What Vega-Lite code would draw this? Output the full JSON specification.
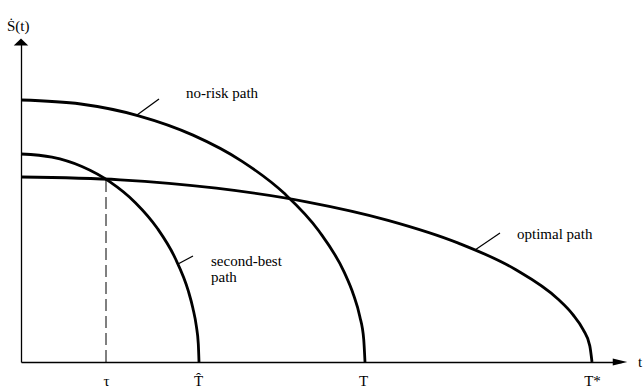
{
  "$schema": "https://vega.github.io/schema/vega-lite/v6.json",
  "width": 600,
  "height": 322,
  "autosize": {"type": "none"},
  "padding": {"left": 21, "top": 40, "right": 22, "bottom": 28},
  "background": "white",
  "config": {"view": {"stroke": null}},
  "datasets": {
    "curves": [
      {"path": "no-risk", "i": 0, "u": 0, "v": 262},
      {"path": "no-risk", "i": 1, "u": 59.7, "v": 258.0},
      {"path": "no-risk", "i": 2, "u": 117.6, "v": 246.2},
      {"path": "no-risk", "i": 3, "u": 172, "v": 226.9},
      {"path": "no-risk", "i": 4, "u": 221.1, "v": 200.7},
      {"path": "no-risk", "i": 5, "u": 263.5, "v": 168.4},
      {"path": "no-risk", "i": 6, "u": 297.9, "v": 131},
      {"path": "no-risk", "i": 7, "u": 323.3, "v": 89.6},
      {"path": "no-risk", "i": 8, "u": 332.3, "v": 67.8},
      {"path": "no-risk", "i": 9, "u": 338.8, "v": 45.5},
      {"path": "no-risk", "i": 10, "u": 342.7, "v": 22.8},
      {"path": "no-risk", "i": 11, "u": 344, "v": 0},
      {"path": "second-best", "i": 0, "u": 0, "v": 208},
      {"path": "second-best", "i": 1, "u": 30.9, "v": 204.8},
      {"path": "second-best", "i": 2, "u": 60.9, "v": 195.5},
      {"path": "second-best", "i": 3, "u": 89, "v": 180.1},
      {"path": "second-best", "i": 4, "u": 114.4, "v": 159.3},
      {"path": "second-best", "i": 5, "u": 136.3, "v": 133.7},
      {"path": "second-best", "i": 6, "u": 154.1, "v": 104},
      {"path": "second-best", "i": 7, "u": 167.3, "v": 71.1},
      {"path": "second-best", "i": 8, "u": 171.9, "v": 53.8},
      {"path": "second-best", "i": 9, "u": 175.3, "v": 36.1},
      {"path": "second-best", "i": 10, "u": 177.3, "v": 18.1},
      {"path": "second-best", "i": 11, "u": 178, "v": 0},
      {"path": "optimal", "i": 0, "u": 0, "v": 185},
      {"path": "optimal", "i": 1, "u": 99.1, "v": 182.2},
      {"path": "optimal", "i": 2, "u": 195.3, "v": 173.8},
      {"path": "optimal", "i": 3, "u": 285.5, "v": 160.2},
      {"path": "optimal", "i": 4, "u": 367.0, "v": 141.7},
      {"path": "optimal", "i": 5, "u": 437.4, "v": 118.9},
      {"path": "optimal", "i": 6, "u": 494.5, "v": 92.5},
      {"path": "optimal", "i": 7, "u": 536.6, "v": 63.3},
      {"path": "optimal", "i": 8, "u": 551.5, "v": 47.9},
      {"path": "optimal", "i": 9, "u": 562.3, "v": 32.1},
      {"path": "optimal", "i": 10, "u": 568.8, "v": 16.1},
      {"path": "optimal", "i": 11, "u": 571, "v": 0}
    ],
    "leaders": [
      {"u": 116, "v": 247, "u2": 138, "v2": 263},
      {"u": 157, "v": 98, "u2": 172, "v2": 106},
      {"u": 454, "v": 112, "u2": 479, "v2": 129}
    ],
    "tau": [
      {"u": 85, "v": 0, "u2": 85, "v2": 183}
    ],
    "arrows": [
      {"u": 0, "v": 320, "dir": "up"},
      {"u": 599, "v": 0, "dir": "right"}
    ],
    "labels": [
      {"u": 165, "v": 269, "label": "no-risk path"},
      {"u": 496, "v": 128, "label": "optimal path"},
      {"u": 190, "v": 101, "label": ["second-best", "path"]},
      {"u": -14, "v": 336, "label": "Ṡ(t)"},
      {"u": 617, "v": 0, "label": "t"}
    ]
  },
  "encoding": {
    "x": {
      "field": "u",
      "type": "quantitative",
      "scale": {"domain": [0, 600], "nice": false, "zero": false},
      "axis": {
        "values": [85, 177, 342, 571],
        "labelExpr": "datum.value == 85 ? 'τ' : datum.value == 177 ? 'T̂' : datum.value == 342 ? 'T' : 'T*'",
        "ticks": false,
        "tickSize": 0,
        "labelPadding": 11,
        "labelFont": "Liberation Serif",
        "labelFontSize": 15,
        "labelColor": "black",
        "labelFlush": false,
        "labelOverlap": false,
        "domainColor": "black",
        "domainWidth": 1.3,
        "grid": false,
        "title": null
      }
    },
    "y": {
      "field": "v",
      "type": "quantitative",
      "scale": {"domain": [0, 322], "nice": false, "zero": false},
      "axis": {
        "labels": false,
        "ticks": false,
        "tickSize": 0,
        "domainColor": "black",
        "domainWidth": 1.3,
        "grid": false,
        "title": null
      }
    }
  },
  "layer": [
    {
      "data": {"name": "curves"},
      "mark": {"type": "line", "color": "black", "strokeWidth": 2.8, "interpolate": "monotone"},
      "encoding": {
        "detail": {"field": "path", "type": "nominal"},
        "order": {"field": "i", "type": "quantitative"}
      }
    },
    {
      "data": {"name": "tau"},
      "mark": {"type": "rule", "color": "black", "strokeWidth": 1, "strokeDash": [12, 5]},
      "encoding": {
        "x2": {"field": "u2"},
        "y2": {"field": "v2"}
      }
    },
    {
      "data": {"name": "leaders"},
      "mark": {"type": "rule", "color": "black", "strokeWidth": 1.2},
      "encoding": {
        "x2": {"field": "u2"},
        "y2": {"field": "v2"}
      }
    },
    {
      "data": {"name": "arrows"},
      "mark": {"type": "point", "filled": true, "color": "black", "opacity": 1, "size": 210},
      "encoding": {
        "shape": {
          "field": "dir",
          "type": "nominal",
          "scale": {"domain": ["up", "right"], "range": ["M-1,0.5L0,-0.5L1,0.5Z", "M-1,-0.5L1,0L-1,0.5Z"]},
          "legend": null
        }
      }
    },
    {
      "data": {"name": "labels"},
      "mark": {"type": "text", "align": "left", "baseline": "middle", "font": "Liberation Serif", "fontSize": 15, "lineHeight": 16, "color": "black"},
      "encoding": {
        "text": {"field": "label"}
      }
    }
  ]
}
